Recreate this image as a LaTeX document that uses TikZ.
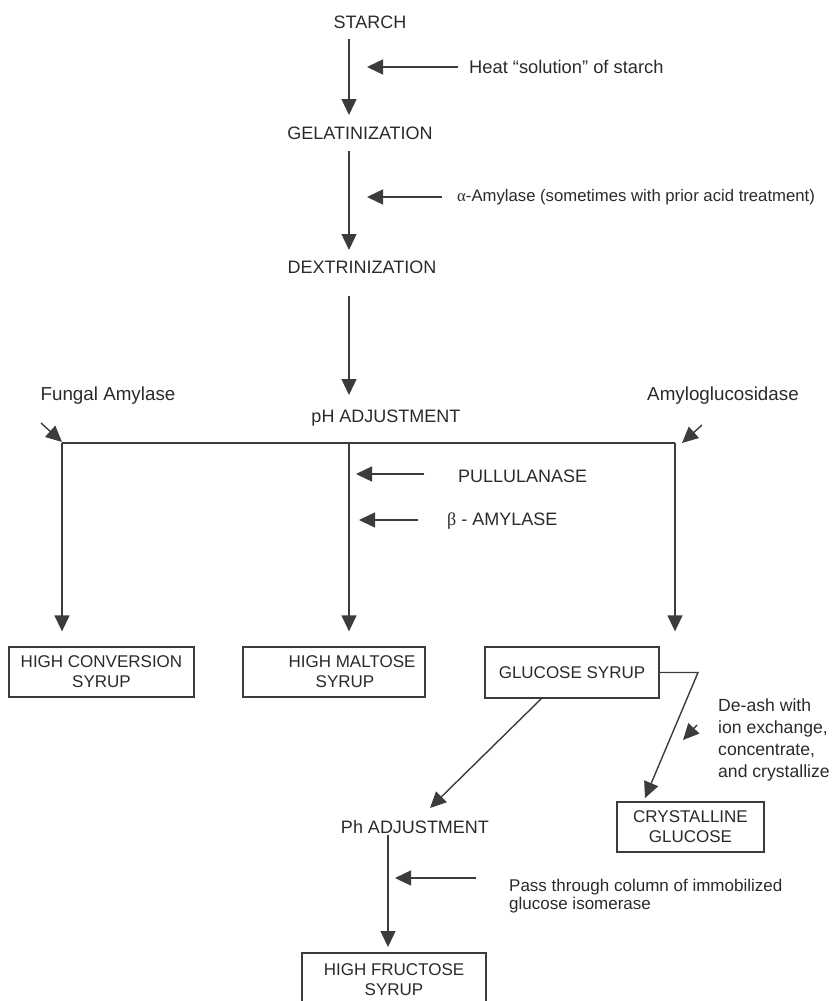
\documentclass[tikz,border=0pt]{standalone}
\usepackage{fontspec}
\setmainfont{Liberation Sans}
\newfontfamily\grk{Liberation Serif}
\usetikzlibrary{arrows.meta}
\definecolor{ink}{HTML}{2A2A2A}
\definecolor{lineink}{HTML}{3C3C3C}
\begin{document}
\begin{tikzpicture}[x=1pt,y=-1pt,
  lbl/.style={inner sep=0pt, text=ink, font=\fontsize{18}{21}\selectfont},
  note/.style={inner sep=0pt, text=ink, align=left, anchor=west},
  boxnode/.style={draw=lineink, line width=1.3pt, inner sep=0pt, text=ink, align=center, font=\fontsize{17}{20}\selectfont},
  arr/.style={draw=lineink, line width=1.4pt, -{Triangle[length=16pt,width=15pt]}},
  ln/.style={draw=lineink, line width=1.4pt}]
\useasboundingbox (0,0) rectangle (837,1001);

% main labels
\node[lbl] (starch) at (370,22) {STARCH};
\node[lbl] (gel) at (360,133) {GELATINIZATION};
\node[lbl] (dex) at (362,267) {DEXTRINIZATION};
\node[lbl] (ph) at (386,418) {pH ADJUSTMENT};
\node[lbl, font=\fontsize{18.8}{22}\selectfont] (fungal) at (108,396) {Fungal Amylase};
\node[lbl, font=\fontsize{18.8}{22}\selectfont] (amylo) at (723,396) {Amyloglucosidase};

% side notes
\node[note, font=\fontsize{18.3}{21}\selectfont] (heat) at (469,67) {Heat “solution” of starch};
\node[note, font=\fontsize{16.7}{20}\selectfont] (alpha) at (457,197) {{\grk α}-Amylase (sometimes with prior acid treatment)};
\node[note, font=\fontsize{18}{21}\selectfont] (pull) at (458,476) {PULLULANASE};
\node[note, font=\fontsize{18}{21}\selectfont] (beta) at (447,521) {{\grk β} - AMYLASE};
\node[note, font=\fontsize{17.6}{22}\selectfont] (deash) at (718,740) {De-ash with\\ion exchange,\\concentrate,\\and crystallize};
\node[note, font=\fontsize{17}{18.5}\selectfont] (pass) at (509,896) {Pass through column of immobilized\\glucose isomerase};
\node[lbl] (ph2) at (415,827) {Ph ADJUSTMENT};

% boxes
\node[boxnode, minimum width=185pt, minimum height=50pt] (hcs) at (101.5,672) {HIGH CONVERSION\\SYRUP};
\node[boxnode, minimum width=182pt, minimum height=50pt] (hms) at (334,672) {\hspace*{36pt}HIGH MALTOSE\\\hspace*{22pt}SYRUP};
\node[boxnode, minimum width=174pt, minimum height=51pt] (gs) at (572,672.5) {GLUCOSE SYRUP};
\node[boxnode, minimum width=147pt, minimum height=50pt] (cg) at (690.5,827) {CRYSTALLINE\\GLUCOSE};
\node[boxnode, minimum width=184pt, minimum height=54pt] (hfs) at (394,980) {HIGH FRUCTOSE\\SYRUP};

% coordinates
\coordinate (s1) at (349,39);
\coordinate (e1) at (349,115);
\coordinate (s2) at (349,151);
\coordinate (e2) at (349,250);
\coordinate (s3) at (349,296);
\coordinate (e3) at (349,395);
\coordinate (hl) at (62,443);
\coordinate (hm) at (349,443);
\coordinate (hr) at (675,443);
\coordinate (gsbend) at (698,672.5);
\coordinate (gsdiag) at (542,698);
\coordinate (ph2top) at (388,835);

% main flow
\draw[arr] (s1) -- (e1);
\draw[arr] (s2) -- (e2);
\draw[arr] (s3) -- (e3);
\draw[ln] (hl) -- (hr);
\draw[arr] (hl) -- ([yshift=15pt]hl |- hcs.north);
\draw[arr] (hm) -- ([yshift=15pt]hm |- hms.north);
\draw[arr] (hr) -- ([yshift=15pt]hr |- gs.north);
\draw[arr] (gs.east) -- (gsbend) -- (645,798);
\draw[arr] (gsdiag) -- (430,808);
\draw[arr] (ph2top) -- (388,947);

% side arrows
\draw[arr] (heat.west) ++(-11,0) -- (367,67);
\draw[arr] (alpha.west) ++(-15,0) -- (367,197);
\draw[arr] (pull.west) ++(-34,-2) -- (356,474);
\draw[arr] (beta.west) ++(-29,-1) -- (359,520);
\draw[arr] (41,423) -- (62,442);
\draw[arr] (702,425) -- (682,443);
\draw[arr] (697,725) -- (683,740);
\draw[arr] (pass.west) ++(-33,-18) -- (395,878);
\end{tikzpicture}
\end{document}
